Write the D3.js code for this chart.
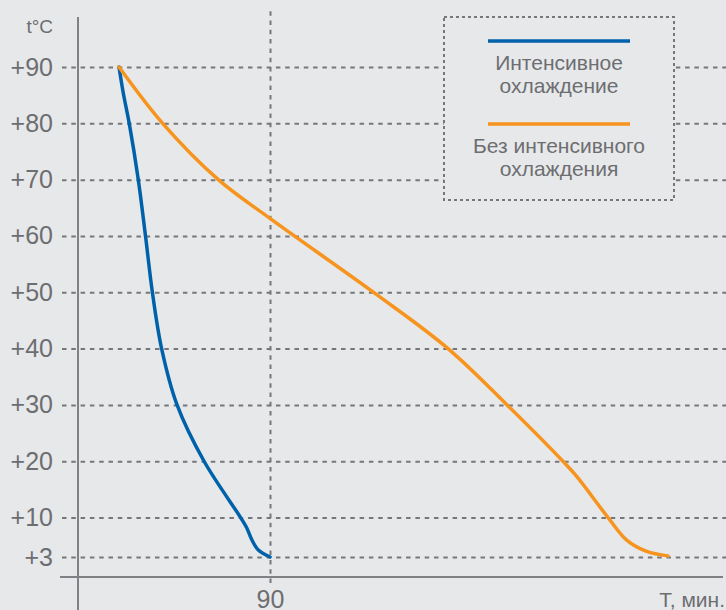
<!DOCTYPE html>
<html>
<head>
<meta charset="utf-8">
<script src="https://cdn.jsdelivr.net/npm/d3@7"></script>
<style>
  body { margin: 0; background: #e7e8ea; }
  svg { display: block; }
  svg text { font-family: "Liberation Sans", Arial, sans-serif; }
</style>
</head>
<body>
<div id="chart"></div>
<script>
// values (minutes, degrees C)
var blueTime = [0, 2.6, 6.1, 11.5, 15.8, 19.9, 25.4, 34.6, 50.7, 72.5, 76.1, 79.1, 82.9, 90];
var blueTemp = [90, 85.3, 80, 70, 60, 50, 40, 30, 20, 10, 8.2, 6.1, 4.3, 3];
var orangeTime = [0, 26, 59.2, 91, 152.6, 196.1, 231.3, 264.6, 272.8, 291.5, 302.6, 314.5, 327.2];
var orangeTemp = [90, 80, 70, 62.9, 49.8, 40, 30, 20, 17.3, 10, 6.0, 4.0, 3.2];
var yTicks = [3, 10, 20, 30, 40, 50, 60, 70, 80, 90];
var xTicks = [90];
var legendNames = [["Интенсивное", "охлаждение"], ["Без интенсивного", "охлаждения"]];
var colors = ["#0061ab", "#f7941d"];

var width = 726;
var height = 610;
var bg = "#e7e8ea";
var textColor = "#6d6e71";
var gridColor = "#76777a";
var font = "Liberation Sans, Arial, sans-serif";

var svg = d3.select("#chart")
    .append("svg")
    .attr("width", width)
    .attr("height", height);

var x = d3.scaleLinear().domain([0, 90]).range([119, 270]);
var y = d3.scaleLinear().domain([3, 90]).range([557, 67]);

// horizontal grid + y labels
var yAxis = svg.append("g")
    .attr("transform", "translate(62,0)")
    .call(d3.axisLeft(y)
        .tickValues(yTicks)
        .tickFormat(function(d){ return "+" + d; })
        .tickSize(-(width - 62))
        .tickPadding(9))
    .attr("font-family", font)
    .attr("font-size", 25);
yAxis.select(".domain").remove();
yAxis.selectAll(".tick line")
    .attr("stroke", gridColor)
    .attr("stroke-width", 2)
    .attr("stroke-dasharray", "4.5,4.8");
yAxis.selectAll(".tick text")
    .attr("fill", textColor);

// vertical grid at 90 + x label
var xAxis = svg.append("g")
    .attr("transform", "translate(0,583)")
    .call(d3.axisBottom(x)
        .tickValues(xTicks)
        .tickSize(-575)
        .tickPadding(7))
    .attr("font-family", font)
    .attr("font-size", 25);
xAxis.select(".domain").remove();
xAxis.selectAll(".tick line")
    .attr("stroke", gridColor)
    .attr("stroke-width", 2)
    .attr("stroke-dasharray", "4.5,4.8");
xAxis.selectAll(".tick text")
    .attr("fill", textColor);

// axis lines
svg.append("line")
    .attr("x1", 78).attr("x2", 78)
    .attr("y1", 17).attr("y2", height)
    .attr("stroke", "#808184")
    .attr("stroke-width", 2);
svg.append("line")
    .attr("x1", 60).attr("x2", 723)
    .attr("y1", 577).attr("y2", 577)
    .attr("stroke", "#808184")
    .attr("stroke-width", 2);

svg.append("text")
    .attr("x", 53)
    .attr("y", 33)
    .attr("text-anchor", "end")
    .style("font-size", "19px")
    .attr("fill", textColor)
    .text("t°C");

svg.append("text")
    .attr("x", 725)
    .attr("y", 607)
    .attr("text-anchor", "end")
    .style("font-size", "21px")
    .attr("fill", textColor)
    .text("Т, мин.");

// curves
var line = d3.line()
    .x(function(d){ return x(d[0]); })
    .y(function(d){ return y(d[1]); })
    .curve(d3.curveCatmullRom.alpha(0.5));

var series = [d3.zip(blueTime, blueTemp), d3.zip(orangeTime, orangeTemp)];

svg.selectAll(".curve")
    .data(series)
    .enter()
    .append("path")
    .attr("class", "curve")
    .attr("d", line)
    .attr("fill", "none")
    .attr("stroke", function(d, i){ return colors[i]; })
    .attr("stroke-width", 3.5)
    .attr("stroke-linecap", "round");

// legend
svg.append("rect")
    .attr("x", 444)
    .attr("y", 17)
    .attr("width", 230)
    .attr("height", 183)
    .attr("fill", bg)
    .attr("stroke", gridColor)
    .attr("stroke-width", 2)
    .attr("stroke-dasharray", "3,3");

var leg = svg.selectAll(".leg")
    .data(legendNames)
    .enter()
    .append("g")
    .attr("class", "leg")
    .attr("transform", function(d, i){ return "translate(0," + (i * 83) + ")"; });

leg.append("line")
    .attr("x1", 488).attr("x2", 630)
    .attr("y1", 41).attr("y2", 41)
    .attr("stroke", function(d, i){ return colors[i]; })
    .attr("stroke-width", 3.5);

leg.each(function(d){
    var g = d3.select(this);
    d.forEach(function(s, j){
        g.append("text")
            .attr("x", 559)
            .attr("y", 70 + j * 23)
            .attr("text-anchor", "middle")
            .style("font-size", "21px")
            .attr("fill", textColor)
            .text(s);
    });
});
</script>
</body>
</html>
